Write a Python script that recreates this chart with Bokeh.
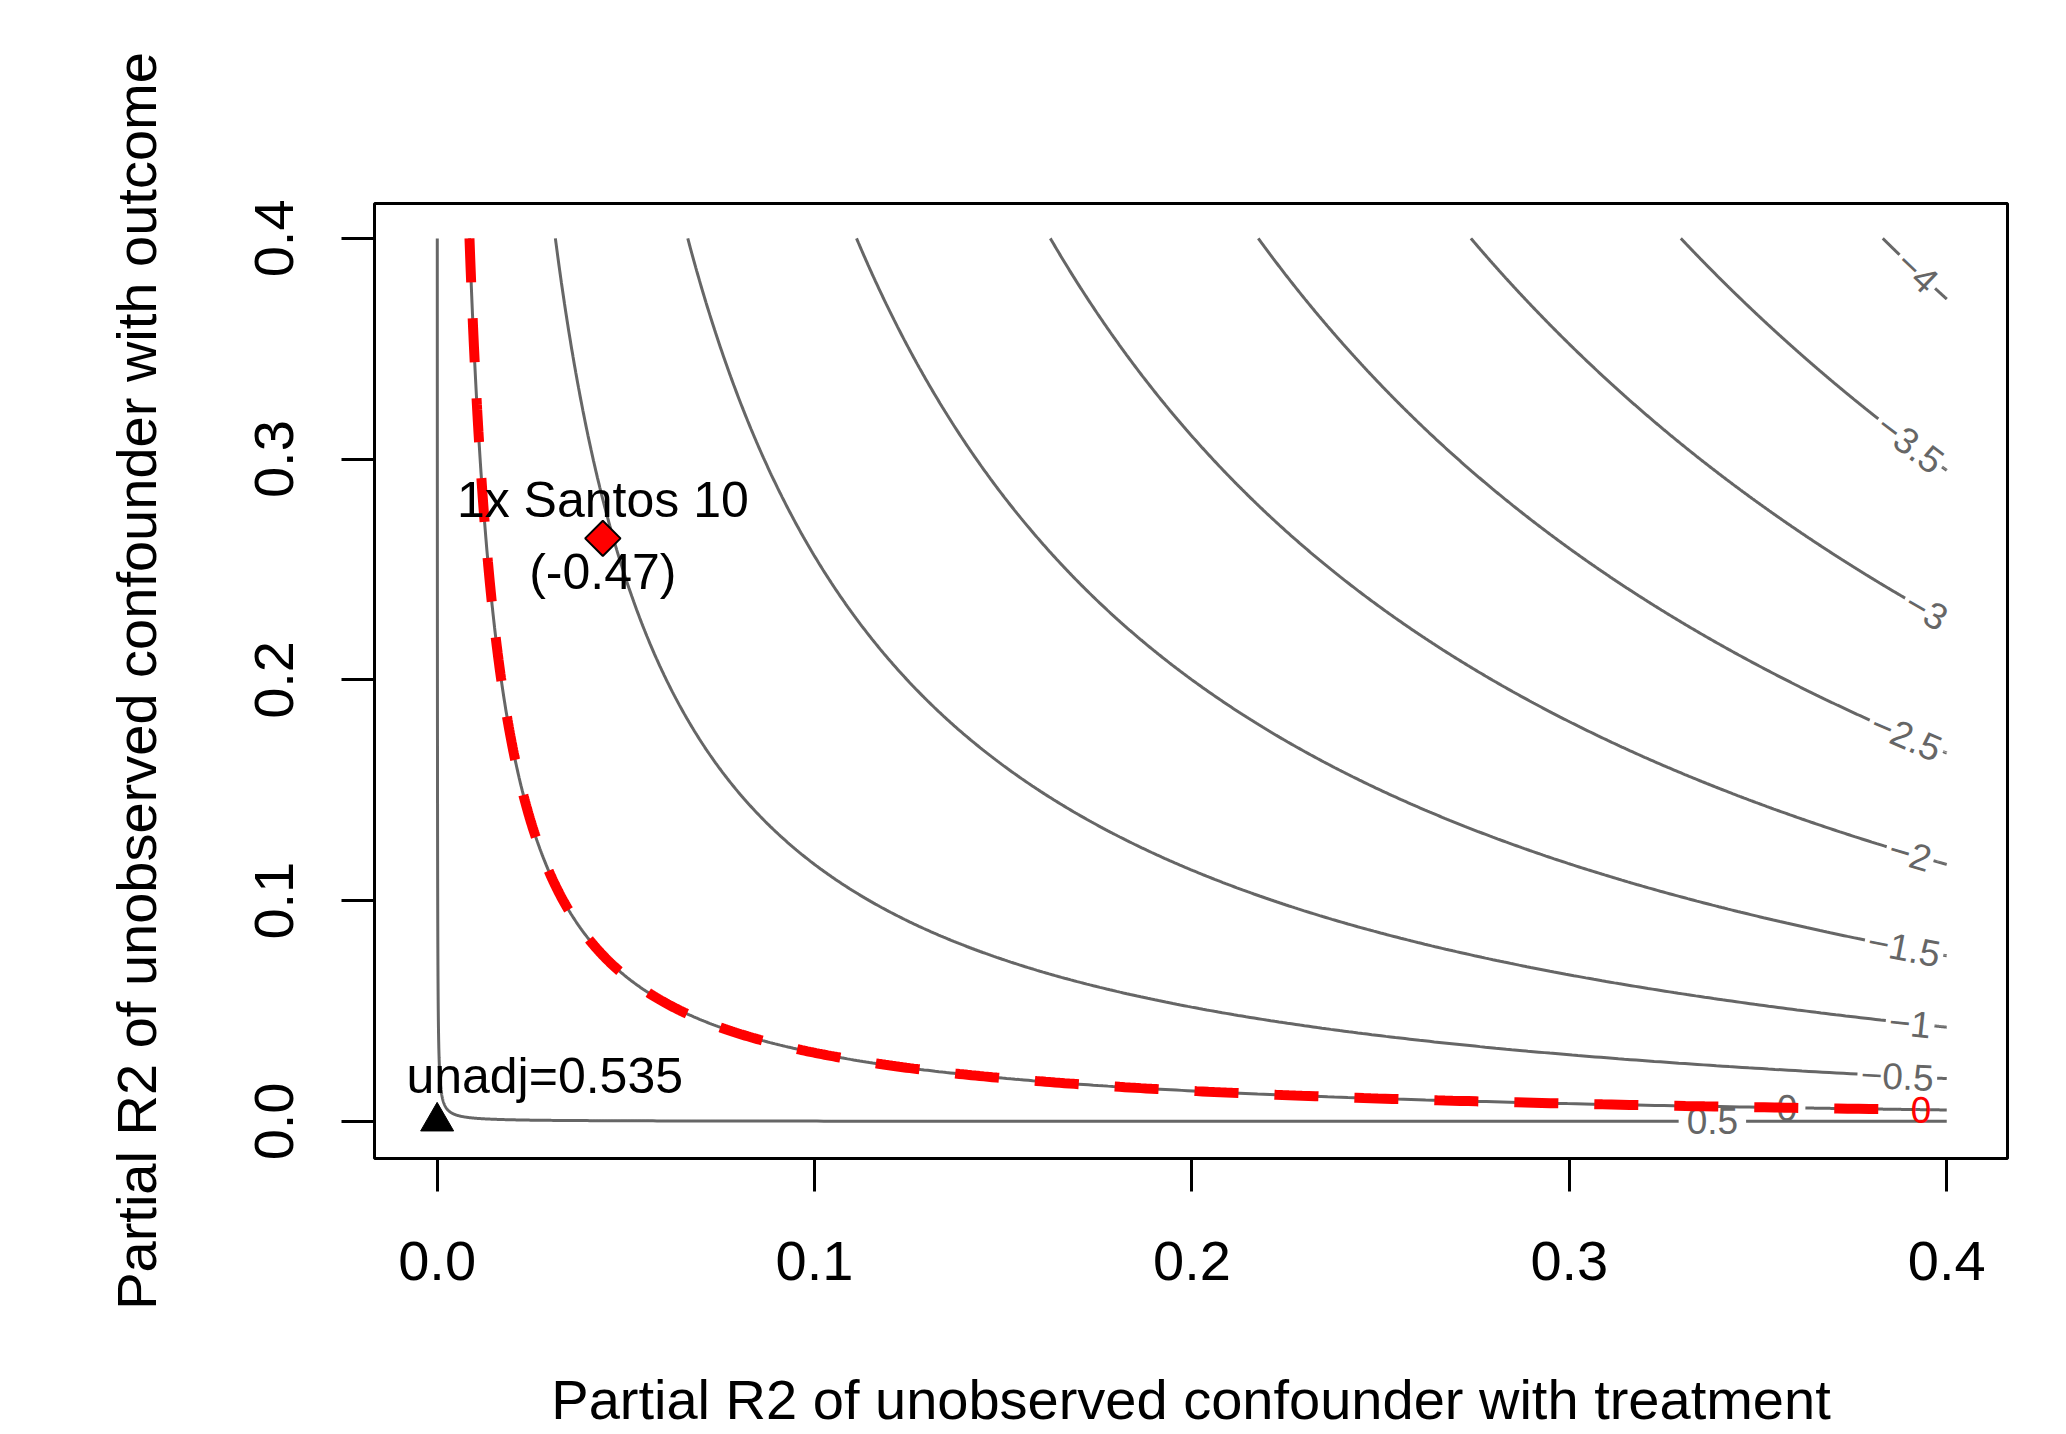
import numpy as np
from bokeh.plotting import figure
from bokeh.models import Range1d, FixedTicker, NumeralTickFormatter
from bokeh.embed import file_html
from bokeh.resources import INLINE
from bokeh.core.properties import value

# ---------------- data ----------------
estimate = 0.535            # unadjusted estimate
bias_factor = 9.1           # se * sqrt(dof)
levels = [0.5, 0.0, -0.5, -1.0, -1.5, -2.0, -2.5, -3.0, -3.5, -4.0]
level_labels = ["0.5", "0", "-0.5", "-1", "-1.5", "-2", "-2.5", "-3", "-3.5", "-4"]
threshold = 0.0
threshold_label = "0"
bench_r2dz = [0.0439]
bench_r2yz = [0.2641]
bench_names = ["1x Santos 10"]
bench_adjusted = [-0.47]
axis_ticks = [0.0, 0.1, 0.2, 0.3, 0.4]
lim = 0.4

# ---------------- layout / style ----------------
label_pos_x = [0.3379, 0.3577, 0.3869, 0.3903, 0.3887, 0.3903, 0.3893, 0.3946, 0.3903, 0.3922]
threshold_label_x = 0.3932
unadj_bump = (0.0285, 0.0206)
FW, FH = 1633, 955
XR = (-0.0166, 0.4161)
YR = (-0.0168, 0.4158)
sx = FW / (XR[1] - XR[0])
sy = FH / (YR[1] - YR[0])
GREY = "#666666"
FONT = "Liberation Sans"
LAB_FS = 37

p = figure(frame_width=FW, frame_height=FH, x_range=Range1d(*XR), y_range=Range1d(*YR),
           output_backend="svg", toolbar_location=None,
           min_border_left=374, min_border_right=35, min_border_top=203, min_border_bottom=250)
p.background_fill_color = "white"
p.border_fill_color = "white"
p.outline_line_color = "black"
p.outline_line_width = 3
p.xgrid.visible = False
p.ygrid.visible = False

char_w = {"-": 0.333, ".": 0.278}


def text_width(s, fs):
    return sum(char_w.get(ch, 0.556) for ch in s) * fs


def contour_parts(level, lab_x, lab_text):
    c = ((estimate - level) / bias_factor) ** 2
    x0 = c / (lim + c)
    slope = -c / lab_x ** 2
    ang = np.arctan(slope * sy / sx)
    half = (text_width(lab_text, LAB_FS) / 2 + 8) * np.cos(ang) / sx
    segs = []
    for a, b in [(x0, lab_x - half), (lab_x + half, lim)]:
        if b > a:
            xs = np.geomspace(a, b, 500)
            ys = c * (1 - xs) / xs
            segs.append((xs, ys))
    yl = c * (1 - lab_x) / lab_x
    return segs, lab_x, yl, ang


gx, gy, lx, ly, la, lt = [], [], [], [], [], []
for lev, lab, xl in zip(levels, level_labels, label_pos_x):
    segs, xlab, ylab, ang = contour_parts(lev, xl, lab)
    for xs, ys in segs:
        gx.append(list(xs))
        gy.append(list(ys))
    lx.append(xlab); ly.append(ylab); la.append(ang); lt.append(lab.replace("-", "\u2212"))

p.multi_line(xs=gx, ys=gy, line_color=GREY, line_width=3)
p.text(x=lx, y=ly, text=lt, angle=la, text_align="center", text_baseline="middle",
       text_font=value(FONT), text_font_size=f"{LAB_FS}px", text_color=GREY)

# threshold (red dashed)
rsegs, rx, ry, rang = contour_parts(threshold, threshold_label_x, threshold_label)
xs, ys = rsegs[0]
p.line(x=xs, y=ys, line_color="red", line_width=10, line_dash="44 36")
p.text(x=[rx], y=[ry], text=[threshold_label], angle=[rang], text_align="center",
       text_baseline="middle", text_font=value(FONT), text_font_size=f"{LAB_FS}px",
       text_color="red")

# unadjusted point
p.scatter(x=[0.0], y=[0.0], marker="triangle", size=33, fill_color="black", line_color="black")
p.text(x=[0.0 + unadj_bump[0]], y=[0.0 + unadj_bump[1]], text=[f"unadj={estimate:.3f}"],
       text_align="center", text_baseline="middle", text_font=value(FONT),
       text_font_size="50px", text_color="black")

# benchmark
p.scatter(x=bench_r2dz, y=bench_r2yz, marker="square", angle=np.pi / 4, size=25,
          fill_color="red", line_color="black", line_width=2)
p.text(x=bench_r2dz, y=[v + 38 / sy for v in bench_r2yz], text=bench_names,
       text_align="center", text_baseline="middle", text_font=value(FONT),
       text_font_size="50px", text_color="black")
p.text(x=bench_r2dz, y=[v - 34 / sy for v in bench_r2yz],
       text=[f"({a:.2f})" for a in bench_adjusted],
       text_align="center", text_baseline="middle", text_font=value(FONT),
       text_font_size="50px", text_color="black")

for ax in (p.xaxis[0], p.yaxis[0]):
    ax.ticker = FixedTicker(ticks=axis_ticks)
    ax.formatter = NumeralTickFormatter(format="0.0")
    ax.axis_line_color = None
    ax.major_tick_out = 33
    ax.major_tick_in = 0
    ax.major_tick_line_width = 3
    ax.major_tick_line_color = "black"
    ax.minor_tick_line_color = None
    ax.major_label_text_font = FONT
    ax.major_label_text_font_size = "56px"
    ax.major_label_text_color = "black"
    ax.axis_label_text_font = FONT
    ax.axis_label_text_font_size = "56px"
    ax.axis_label_text_font_style = "normal"
    ax.axis_label_text_color = "black"

p.xaxis.axis_label = "Partial R2 of unobserved confounder with treatment"
p.yaxis.axis_label = "Partial R2 of unobserved confounder with outcome"
p.xaxis.major_label_standoff = 50
p.xaxis.axis_label_standoff = 85
p.yaxis.major_label_orientation = "vertical"
p.yaxis.major_label_standoff = 48
p.yaxis.axis_label_standoff = 85

open("out.html", "w").write(file_html(p, INLINE))
